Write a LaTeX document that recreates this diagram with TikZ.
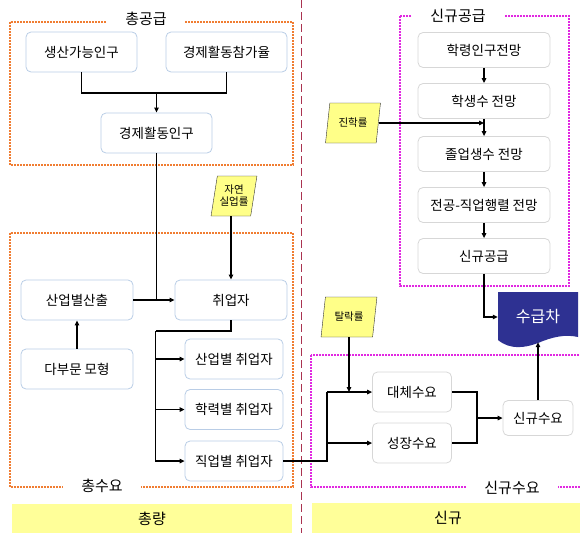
\documentclass[tikz,border=0pt]{standalone}
\usepackage{fontspec}
\setmainfont{Noto Sans CJK KR}
\usetikzlibrary{arrows.meta,shapes.geometric}
\definecolor{lblue}{RGB}{185,205,230}
\definecolor{lgray}{RGB}{215,215,215}
\definecolor{rateyel}{RGB}{255,255,136}
\definecolor{frmorange}{RGB}{240,125,50}
\definecolor{frmmag}{RGB}{225,40,225}
\definecolor{baryel}{RGB}{255,255,153}
\definecolor{gapblue}{RGB}{46,49,146}
\definecolor{divred}{RGB}{170,50,80}

\begin{document}
\begin{tikzpicture}[x=1pt, y=-1pt,
    lbox/.style={draw=lblue, line width=0.8pt, rounded corners=5pt, fill=white, minimum height=40pt, font=\fontsize{13.5}{15}\selectfont},
    rbox/.style={draw=lgray, line width=0.8pt, rounded corners=5pt, fill=white, minimum width=132pt, minimum height=35pt, font=\fontsize{13.5}{15}\selectfont},
    rate/.style={trapezium, trapezium left angle=76, trapezium right angle=104, trapezium stretches=true, draw=black!80, fill=rateyel, minimum height=40pt, inner sep=1pt, font=\fontsize{10.5}{12}\selectfont, align=center},
    ofrm/.style={draw=frmorange, line width=1.8pt, dash pattern=on 1.6pt off 1.4pt},
    mfrm/.style={draw=frmmag, line width=1.8pt, dash pattern=on 1.6pt off 1.4pt},
    ttl/.style={fill=white, inner xsep=18pt, inner ysep=1pt, font=\fontsize{15}{17}\selectfont},
    bar/.style={fill=baryel, font=\fontsize{15}{17}\selectfont},
    link/.style={line width=1.2pt},
    arr/.style={link, -{Triangle[length=5pt,width=4.5pt]}}
]
\useasboundingbox (0,0) rectangle (580,533);

% frames and divider
\draw[ofrm] (10,22) rectangle (293,165);
\draw[ofrm] (10,233) rectangle (293,487);
\draw[mfrm] (400,16) rectangle (569,286);
\draw[mfrm] (311,355) rectangle (586,487);
\draw[divred, line width=1pt, dash pattern=on 8pt off 4pt] (301,0) -- (301,533);
\node[ttl] (tsup) at (146,19) {총공급};
\node[ttl] (tdem) at (102,486) {총수요};
\node[ttl] (tnsup) at (458,16) {신규공급};
\node[ttl] (tndem) at (512,488) {신규수요};
\node[bar, minimum width=280pt, minimum height=29pt] (tot) at (152,518.5) {총량};
\node[bar, minimum width=272pt, minimum height=30pt] (new) at (448,518) {신규};

% total side
\node[lbox, minimum width=111pt] (wap) at (81.5,52) {생산가능인구};
\node[lbox, minimum width=121pt] (lfpr) at (226.5,52) {경제활동참가율};
\node[lbox, minimum width=111pt] (eap) at (156.5,133) {경제활동인구};
\node[lbox, minimum width=112pt] (out) at (77,300) {산업별산출};
\node[lbox, minimum width=112pt] (emp) at (231,300) {취업자};
\node[lbox, minimum width=112pt] (io) at (77,369) {다부문 모형};
\node[lbox, minimum width=98pt] (empind) at (234,359) {산업별 취업자};
\node[lbox, minimum width=98pt] (empedu) at (234,409.5) {학력별 취업자};
\node[lbox, minimum width=98pt] (empocc) at (234,461) {직업별 취업자};
\node[rate, minimum width=46pt] (nur) at (234,196) {자연\\실업률};

% new side
\node[rbox] (pop) at (484,50) {학령인구전망};
\node[rbox] (stu) at (484,101) {학생수 전망};
\node[rbox] (grad) at (484,154) {졸업생수 전망};
\node[rbox] (mat) at (484,205) {전공-직업행렬 전망};
\node[rbox] (nsup) at (484,256) {신규공급};
\node[rate, minimum width=55pt] (adv) at (353,123) {진학률};
\node[rate, minimum width=56pt] (drop) at (349,317) {탈락률};
\node[rbox, minimum width=79pt, minimum height=40pt] (repl) at (412,392) {대체수요};
\node[rbox, minimum width=79pt, minimum height=40pt] (grow) at (412,443) {성장수요};
\node[rbox, minimum width=70pt] (ndem) at (538,418) {신규수요};
\fill[gapblue] (498,292) -- (578,292) -- (578,337) .. controls (565,334) and (552,337) .. (538,343) .. controls (525,348) and (510,350) .. (498,340) -- cycle;
\node[minimum width=80pt, minimum height=50pt, inner sep=0pt, text=white, font=\fontsize{16}{18}\selectfont] (gap) at (538,317) {수급차};

% connectors
\coordinate (jn) at (156.5,93);
\draw[link] (wap.south) |- (jn) -| (lfpr.south);
\draw[arr] (jn) -- (eap.north);
\draw[link] (eap.south) -- (eap.south |- emp.west);
\draw[arr] (out.east) -- (emp.west);
\draw[arr] (emp.north |- nur.south) -- (emp.north);
\draw[arr] (io.north) -- (out.south);
\coordinate (br) at (155.5,331);
\draw[link] (emp.south) |- (br);
\draw[arr] (br) |- (empind.west);
\draw[arr] (br) |- (empedu.west);
\draw[arr] (br) |- (empocc.west);

\coordinate (fk) at (327,392);
\draw[link] (empocc.east) -| (fk);
\draw[arr] (fk) -- (repl.west);
\draw[arr] (fk |- grow.west) -- (grow.west);
\draw[arr] (drop.south) -- (drop.south |- repl.west);
\coordinate (mg) at (477,418);
\draw[link] (repl.east) -| (mg) |- (grow.east);
\draw[arr] (mg) -- (ndem.west);
\draw[arr] (ndem.north) -- (gap.south);
\draw[arr] (nsup.south) |- (gap.west);

\draw[arr] (pop.south) -- (stu.north);
\draw[arr] (stu.south) -- (grad.north);
\draw[arr] (grad.south) -- (mat.north);
\draw[arr] (mat.south) -- (nsup.north);
\draw[arr] (adv.east) -- (adv.east -| stu.south);
\end{tikzpicture}
\end{document}
